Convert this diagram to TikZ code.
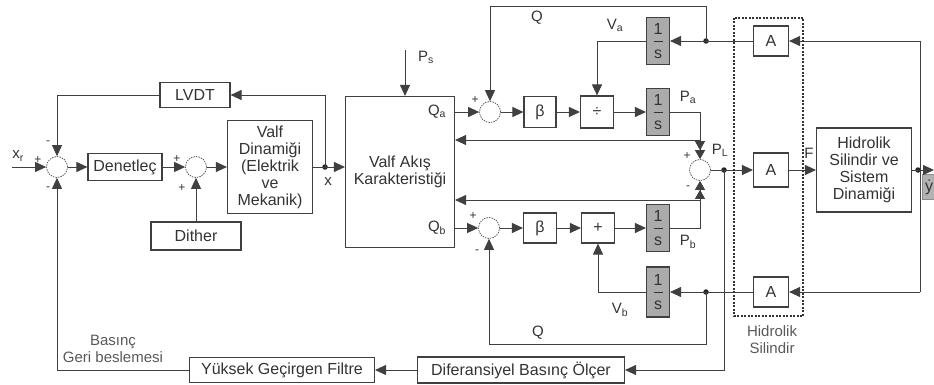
\documentclass[tikz,border=0pt]{standalone}
\usepackage{fontspec}
\setmainfont{Liberation Sans}
\usetikzlibrary{arrows.meta}

\begin{document}
\begin{tikzpicture}[
    x=1pt, y=-1pt,
    font=\fontsize{16}{17}\selectfont,
    block/.style={draw=black!75, line width=1.1pt, fill=white, inner sep=1pt, align=center, text=black!80},
    integ/.style={block, fill=black!33, minimum width=23pt, minimum height=47pt},
    sumc/.style={circle, draw=black!70, dash pattern=on 1.5pt off 1pt, line width=0.7pt, minimum size=21pt, inner sep=0pt},
    jdot/.style={circle, fill=black!85, inner sep=0pt, minimum size=5.5pt},
    lbl/.style={text=black!80, inner sep=0pt, font=\fontsize{15}{17}\selectfont},
    sgn/.style={text=black!80, inner sep=0pt, font=\fontsize{12}{12}\selectfont},
    sig/.style={draw=black!75, line width=0.9pt},
    arr/.style={sig, -{Triangle[length=11pt,width=10pt]}},
    darr/.style={sig, -{Triangle[length=9pt,width=10pt] Triangle[length=9pt,width=10pt]}},
  ]
    \useasboundingbox (0,0) rectangle (934,385);

    \node[sumc] (s1) at (57,167) {};
    \node[block, minimum width=74pt, minimum height=27pt] (den) at (125,167) {Denetleç};
    \node[sumc] (s2) at (196,167) {};
    \node[block, minimum width=85pt, minimum height=93pt] (vdin) at (270,167) {Valf\\Dinamiği\\(Elektrik\\ve\\Mekanik)};
    \node[block, minimum width=70pt, minimum height=25pt] (lvdt) at (195,95) {LVDT};
    \node[block, minimum width=90pt, minimum height=28pt] (dith) at (196,236) {Dither};
    \node[jdot] (xd) at (325,167) {};
    \node[block, minimum width=109pt, minimum height=151pt] (vak) at (400,172) {Valf Akış\\Karakteristiği};
    \coordinate (xin) at (12,167);
    \coordinate (ps) at (405,50);

    \draw[arr] (xin) -- (s1);
    \draw[arr] (s1) -- (den);
    \draw[arr] (den) -- (s2);
    \draw[arr] (s2) -- (vdin);
    \draw[sig] (vdin) -- (xd.center);
    \draw[arr] (xd.center) -- (vak.west |- xd);
    \draw[arr] (xd.center) |- (lvdt);
    \draw[arr] (lvdt) -| (s1);
    \draw[arr] (dith) -- (s2);
    \draw[arr] (ps) -- (ps |- vak.north);

    \node[sumc] (sa) at (490,112) {};
    \node[block, minimum width=32pt, minimum height=31pt] (ba) at (540,112) {β};
    \node[block, minimum width=33pt, minimum height=32pt] (da) at (597,112) {÷};
    \node[integ] (ipa) at (658,112) {1\\[-5pt]\rule[5pt]{9pt}{0.6pt}\\[-5pt]s};
    \node[integ] (iva) at (658,41) {1\\[-5pt]\rule[5pt]{9pt}{0.6pt}\\[-5pt]s};
    \node[jdot] (dA) at (706,41) {};
    \node[block, minimum width=35pt, minimum height=30pt] (at) at (771,41) {A};
    \coordinate (qt) at (706,6);

    \node[sumc] (sb) at (489,228) {};
    \node[block, minimum width=33pt, minimum height=30pt] (bb) at (540,228) {β};
    \node[block, minimum width=33pt, minimum height=30pt] (opb) at (598,228) {+};
    \node[integ] (ipb) at (658,228) {1\\[-5pt]\rule[5pt]{9pt}{0.6pt}\\[-5pt]s};
    \node[integ, minimum height=50pt] (ivb) at (658,292) {1\\[-5pt]\rule[5pt]{9pt}{0.6pt}\\[-5pt]s};
    \node[jdot] (dB) at (706,292) {};
    \node[block, minimum width=35pt, minimum height=30pt] (ab) at (771,292) {A};
    \coordinate (qb) at (706,344);

    \node[sumc] (sl) at (700,170) {};
    \node[jdot] (pl) at (724,170) {};
    \node[block, minimum width=35pt, minimum height=34pt] (am) at (771,170) {A};
    \node[block, minimum width=95pt, minimum height=84pt] (hid) at (864,170) {Hidrolik\\Silindir ve\\Sistem\\Dinamiği};
    \node[jdot] (yd) at (918,170) {};
    \coordinate (yend) at (934,170);
    \node[block, fill=black!30, draw=black!45, line width=0.6pt, minimum width=14pt, minimum height=25pt] (yv) at (929,187) {\.{y}};
    \coordinate (rt) at (920,41);
    \coordinate (rb) at (920,292);
    \coordinate (fa) at (700,140);
    \coordinate (fb) at (700,200);
    \coordinate (pd) at (724,370);

    \node[block, minimum width=207pt, minimum height=26pt] (dif) at (521,370) {Diferansiyel Basınç Ölçer};
    \node[block, minimum width=185pt, minimum height=25pt] (ygf) at (282,370) {Yüksek Geçirgen Filtre};

    \draw[arr] (vak.east |- sa) -- (sa);
    \draw[arr] (sa) -- (ba);
    \draw[arr] (ba) -- (da);
    \draw[arr] (da) -- (ipa);
    \draw[darr] (ipa.east) -| (sl.north);
    \draw[arr] (fa) -- (vak.east |- fa);
    \draw[sig] (at) -- (dA.center);
    \draw[arr] (dA.center) -- (iva);
    \draw[arr] (iva) -| (da);
    \draw[arr] (dA.center) -- (qt) -| (sa);

    \draw[arr] (vak.east |- sb) -- (sb);
    \draw[arr] (sb) -- (bb);
    \draw[arr] (bb) -- (opb);
    \draw[arr] (opb) -- (ipb);
    \draw[darr] (ipb.east) -| (sl.south);
    \draw[arr] (fb) -- (vak.east |- fb);
    \draw[sig] (ab) -- (dB.center);
    \draw[arr] (dB.center) -- (ivb);
    \draw[arr] (ivb) -| (opb);
    \draw[arr] (dB.center) -- (qb) -| (sb);

    \draw[sig] (sl) -- (pl.center);
    \draw[arr] (pl.center) -- (am);
    \draw[arr] (am) -- (hid);
    \draw[sig] (hid) -- (yd.center);
    \draw[arr] (yd.center) -- (yend);
    \draw[sig] (rt) -- (rb);
    \draw[arr] (rt) -- (at);
    \draw[arr] (rb) -- (ab);
    \draw[arr] (pl.center) -- (pd) -- (dif);
    \draw[arr] (dif) -- (ygf);
    \draw[arr] (ygf) -| (s1);

    \draw[black!80, line width=1.4pt, dash pattern=on 2pt off 1.5pt] (734,18) rectangle (803,316);
    \node[lbl, align=center, text=black!65] (hs) at (772,340) {Hidrolik\\Silindir};
    \node[lbl, align=center, text=black!65] (bg) at (113,349) {Basınç\\Geri beslemesi};

    \node[lbl] (lxr) at (18,156) {x\textsubscript{r}};
    \node[sgn] (p1) at (38,160) {+};
    \node[sgn] (m1) at (48,143) {-};
    \node[sgn] (m2) at (48,189) {-};
    \node[sgn] (p2) at (177,159) {+};
    \node[sgn] (p3) at (182,188) {+};
    \node[lbl] (lx) at (328,182) {x};
    \node[lbl] (lps) at (426,57) {P\textsubscript{s}};
    \node[lbl] (lqa) at (437,112) {Q\textsubscript{a}};
    \node[lbl] (lqb) at (437,228) {Q\textsubscript{b}};
    \node[sgn] (p4) at (475,100) {+};
    \node[sgn] (p5) at (473,216) {+};
    \node[sgn] (m3) at (477,252) {-};
    \node[lbl] (lq1) at (537,18) {Q};
    \node[lbl] (lq2) at (538,333) {Q};
    \node[lbl] (lva) at (615,25) {V\textsubscript{a}};
    \node[lbl] (lvb) at (620,310) {V\textsubscript{b}};
    \node[lbl] (lpa) at (688,97) {P\textsubscript{a}};
    \node[lbl] (lpb) at (688,242) {P\textsubscript{b}};
    \node[lbl] (lpl) at (720,150) {P\textsubscript{L}};
    \node[sgn] (p6) at (687,156) {+};
    \node[sgn] (m4) at (688,188) {-};
    \node[lbl] (lf) at (809,153) {F};
  \end{tikzpicture}
\end{document}
